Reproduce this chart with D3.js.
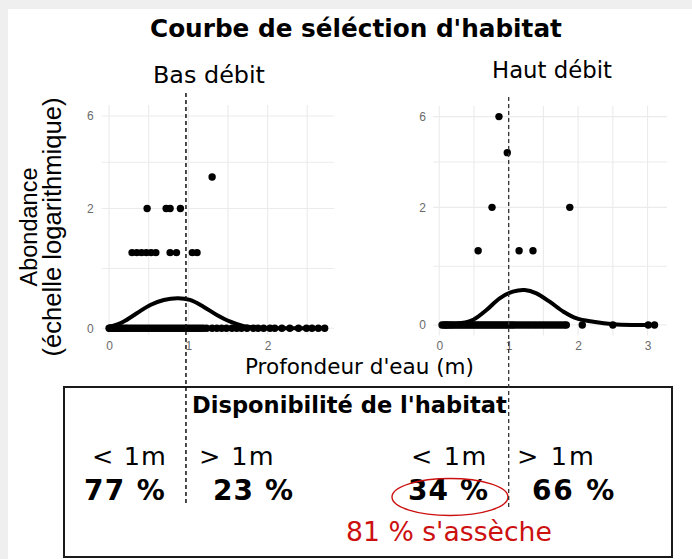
<!DOCTYPE html>
<html><head><meta charset="utf-8">
<script src="https://cdn.jsdelivr.net/npm/d3@7"></script>
<style>body{margin:0;background:#fff}svg{display:block}</style>
</head><body><svg id="c" width="692" height="559"></svg>
<script>
// ---------------- DATA ----------------
const panelTitles = ["Bas débit", "Haut débit"];
const yTickValues = [0, 2, 6];
const yMinorValues = [0.73, 3.58];
const leftXTicks = [0, 1, 2];
const leftXMinor = [0.5, 1.5, 2.5];
const rightXTicks = [0, 1, 2, 3];
const rightXMinor = [0.5, 1.5, 2.5];

// Bas débit : stations with zero abundance (depth, m)
const leftZeroDepth = [0.00,0.01,0.02,0.03,0.05,0.06,0.08,0.10,0.12,0.14,0.16,0.18,0.21,0.23,0.26,0.29,0.32,0.35,0.38,0.41,0.44,0.47,0.50,0.53,0.56,0.59,0.62,0.65,0.68,0.71,0.74,0.77,0.80,0.83,0.86,0.89,0.92,0.95,0.98,1.01,1.04,1.07,1.10,1.13,1.16,1.19,1.23,1.30,1.36,1.42,1.48,1.55,1.61,1.67,1.74,1.82,1.88,1.95,2.03,2.09,2.18,2.28,2.39,2.49,2.56,2.64,2.72];
// Bas débit : stations with fish
const leftPosDepth = [1.30, 0.48, 0.72, 0.77, 0.90, 0.29, 0.35, 0.41, 0.47, 0.53, 0.59, 0.77, 0.85, 1.05, 1.11];
const leftPosAbund = [3, 2, 2, 2, 2, 1, 1, 1, 1, 1, 1, 1, 1, 1, 1];
// Bas débit : selection curve
const leftCurveDepth = [0.00, 0.18, 0.35, 0.52, 0.69, 0.87, 1.02, 1.19, 1.36, 1.53, 1.69, 1.86, 2.03, 2.40, 2.72];
const leftCurveAbund = [0.01, 0.062, 0.147, 0.238, 0.296, 0.316, 0.296, 0.219, 0.130, 0.062, 0.021, 0.005, 0.0, 0.0, 0.0];

// Haut débit
const rightZeroDepth = [0.04,0.07,0.09,0.11,0.13,0.16,0.18,0.21,0.24,0.27,0.30,0.33,0.36,0.39,0.42,0.45,0.48,0.51,0.54,0.57,0.60,0.63,0.66,0.69,0.72,0.75,0.78,0.81,0.84,0.87,0.90,0.93,0.96,0.99,1.02,1.05,1.08,1.12,1.16,1.20,1.24,1.28,1.32,1.36,1.40,1.44,1.48,1.52,1.56,1.60,1.64,1.68,1.72,1.76,1.80,1.83,2.06,2.50,3.01,3.10];
const rightPosDepth = [0.86, 0.98, 0.76, 1.88, 0.56, 1.15, 1.35];
const rightPosAbund = [6, 4, 2, 2, 1, 1, 1];
const rightCurveDepth = [0.06, 0.30, 0.49, 0.68, 0.87, 1.06, 1.23, 1.40, 1.59, 1.79, 1.98, 2.22, 2.51, 2.80, 3.10];
const rightCurveAbund = [0.0, 0.016, 0.05, 0.15, 0.283, 0.365, 0.386, 0.344, 0.243, 0.132, 0.064, 0.031, 0.007, 0.0, 0.0];

const thresholds = [0.97, 1.0];

const availLabels = ["< 1m", "> 1m", "< 1m", "> 1m"];
const availValues = ["77 %", "23 %", "34 %", "66 %"];
const dryNote = "81 % s'assèche";

// ---------------- DRAW ----------------
const svg = d3.select("#c");
svg.append("rect").attr("width", 692).attr("height", 559).attr("fill", "#efefef");
svg.append("rect").attr("x", 8).attr("y", 9).attr("width", 684).attr("height", 550).attr("fill", "#fff");

// fit: default scales font to width; "space" keeps font size and spreads letters
function label(str, o) {
  const t = svg.append("text").text(str)
    .attr("font-family", o.family || "DejaVu Sans")
    .attr("font-weight", o.weight || "normal")
    .attr("font-size", o.size)
    .attr("fill", o.fill || "#000");
  const w = t.node().getComputedTextLength();
  if (o.fit === "space") {
    t.attr("letter-spacing", (o.width - w) / str.length);
  } else {
    t.attr("font-size", o.size * o.width / w);
  }
  if (o.rotate) {
    t.attr("text-anchor", "middle").attr("transform", `translate(${o.x},${o.y}) rotate(-90)`);
  } else {
    t.attr("x", o.x).attr("y", o.y);
  }
  return t;
}

function panel(cfg) {
  const x = d3.scaleLinear().domain(cfg.xDomain).range(cfg.xRange);
  const y = d3.scaleSymlog().constant(1).domain(cfg.yDomain).range(cfg.yRange);
  const [x0, x1] = cfg.xRange, [yb, yt] = cfg.yRange;
  const g = svg.append("g");
  g.selectAll(".gx").data(cfg.xTicks.concat(cfg.xMinor)).join("line")
    .attr("x1", d => x(d)).attr("x2", d => x(d)).attr("y1", yt).attr("y2", yb)
    .attr("stroke", "#ebebeb").attr("stroke-width", 1.1);
  g.selectAll(".gy").data(yTickValues.concat(yMinorValues)).join("line")
    .attr("x1", x0).attr("x2", x1).attr("y1", d => y(d)).attr("y2", d => y(d))
    .attr("stroke", "#ebebeb").attr("stroke-width", 1.1);
  const ay = g.append("g").attr("transform", `translate(${x0},0)`)
    .call(d3.axisLeft(y).tickValues(yTickValues).tickSize(0).tickPadding(cfg.yPad).tickFormat(d3.format("d")));
  const ax = g.append("g").attr("transform", `translate(0,${yb})`)
    .call(d3.axisBottom(x).tickValues(cfg.xTicks).tickSize(0).tickPadding(cfg.xPad).tickFormat(d3.format("d")));
  [ay, ax].forEach(a => {
    a.select(".domain").remove();
    a.selectAll("text").attr("font-family", "Liberation Sans, Arial, sans-serif").attr("font-size", 12).attr("fill", "#6a6a6a");
  });
  g.selectAll(".z").data(cfg.zero).join("circle")
    .attr("cx", d => x(d)).attr("cy", y(0)).attr("r", 3.7).attr("fill", "#000");
  g.selectAll(".p").data(cfg.posDepth.map((d, i) => [d, cfg.posAbund[i]])).join("circle")
    .attr("cx", d => x(d[0])).attr("cy", d => y(d[1])).attr("r", 3.7).attr("fill", "#000");
  const line = d3.line().x(d => x(d[0])).y(d => y(d[1])).curve(d3.curveCatmullRom.alpha(0.5));
  g.append("path").datum(cfg.curveDepth.map((d, i) => [d, cfg.curveAbund[i]]))
    .attr("d", line).attr("fill", "none").attr("stroke", "#000").attr("stroke-width", 4)
    .attr("stroke-linecap", "round").attr("stroke-linejoin", "round");
  return x;
}

const xL = panel({
  xDomain: [-0.093, 2.84], xRange: [101.7, 334.2],
  yDomain: [-Math.expm1(0.062), Math.expm1(2.047)], yRange: [335, 105],
  xTicks: leftXTicks, xMinor: leftXMinor, yPad: 8, xPad: 6,
  zero: leftZeroDepth, posDepth: leftPosDepth, posAbund: leftPosAbund,
  curveDepth: leftCurveDepth, curveAbund: leftCurveAbund
});
const xR = panel({
  xDomain: [-0.09, 3.28], xRange: [433, 667],
  yDomain: [-Math.expm1(0.098), Math.expm1(2.045)], yRange: [335.5, 106],
  xTicks: rightXTicks, xMinor: rightXMinor, yPad: 7, xPad: 5.5,
  zero: rightZeroDepth, posDepth: rightPosDepth, posAbund: rightPosAbund,
  curveDepth: rightCurveDepth, curveAbund: rightCurveAbund
});

// titles
label("Courbe de séléction d'habitat", {x: 150, y: 37, size: 22, width: 412, weight: "bold"});
label(panelTitles[0], {x: 153, y: 83, size: 22, width: 112});
label(panelTitles[1], {x: 492, y: 78, size: 22, width: 120});
label("Abondance", {x: 37, y: 227, size: 24, width: 119, rotate: true, family: "Liberation Sans, Arial, sans-serif"});
label("(échelle logarithmique)", {x: 61, y: 227, size: 24, width: 259, rotate: true, family: "Liberation Sans, Arial, sans-serif"});
label("Profondeur d'eau (m)", {x: 245, y: 374, size: 19, width: 229});

// availability box
svg.append("rect").attr("x", 64).attr("y", 387).attr("width", 608).attr("height", 170)
  .attr("fill", "none").attr("stroke", "#1a1a1a").attr("stroke-width", 2);

label("Disponibilité de l'habitat", {x: 192, y: 413, size: 18, width: 315, weight: "bold"});
const labX = [[92, 75], [199, 76], [411, 77], [517, 79]];
availLabels.forEach((s, i) => label(s, {x: labX[i][0], y: 465, size: 25.5, width: labX[i][1], fit: "space"}));
const valX = [[84, 82], [213, 81], [408, 81], [532, 84]];
availValues.forEach((s, i) => label(s, {x: valX[i][0], y: 500, size: 28, width: valX[i][1], weight: "bold", fit: "space"}));
label(dryNote, {x: 346, y: 541, size: 22, width: 206, fill: "#cc1010"});
svg.append("ellipse").attr("cx", 450).attr("cy", 497).attr("rx", 58).attr("ry", 18.5)
  .attr("fill", "none").attr("stroke", "#cc1010").attr("stroke-width", 1.4);

// dashed 1 m thresholds
svg.append("line").attr("x1", xL(thresholds[0])).attr("x2", xL(thresholds[0])).attr("y1", 93).attr("y2", 505)
  .attr("stroke", "#111").attr("stroke-width", 1.5).attr("stroke-dasharray", "4,3");
svg.append("line").attr("x1", xR(thresholds[1])).attr("x2", xR(thresholds[1])).attr("y1", 97).attr("y2", 508)
  .attr("stroke", "#333").attr("stroke-width", 1.3).attr("stroke-dasharray", "4,3");
</script></body></html>
